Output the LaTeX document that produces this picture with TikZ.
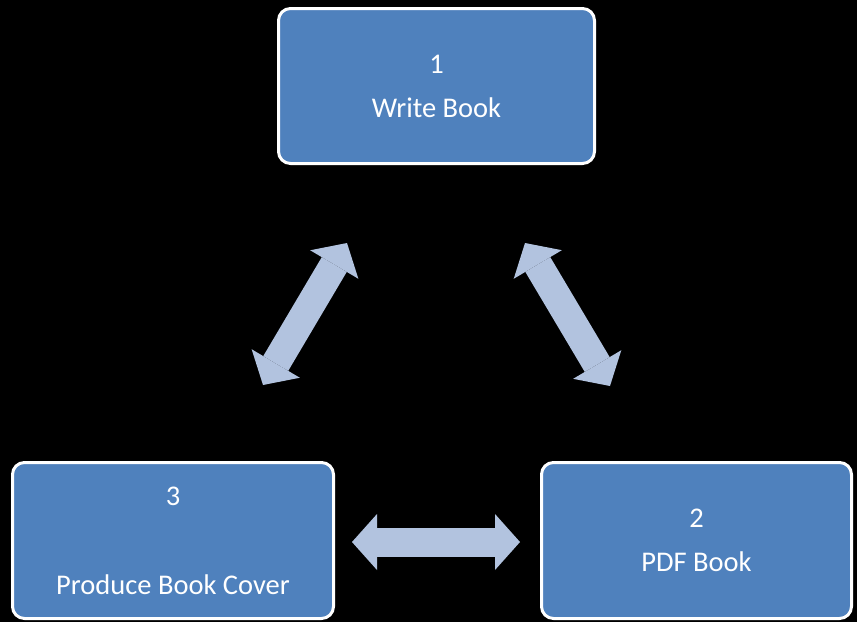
\documentclass[tikz,border=0pt]{standalone}
\usepackage{fontspec}
\setmainfont{Carlito}
\usetikzlibrary{arrows.meta}
\definecolor{boxblue}{RGB}{79,129,189}
\definecolor{arrowblue}{RGB}{178,195,223}
\tikzset{
  stepbox/.style={draw=white, line width=3pt, fill=boxblue, rounded corners=12pt,
    text=white, align=center, font=\fontsize{28.5}{34}\selectfont},
  link/.style={arrowblue, line width=29pt,
    {Triangle[width=56pt,length=25pt,line width=0pt]}-{Triangle[width=56pt,length=25pt,line width=0pt]}}
}
\begin{document}
\begin{tikzpicture}[x=1pt,y=-1pt]
\fill[black] (0,0) rectangle (857,622);
\useasboundingbox (0,0) rectangle (857,622);
\path (436.5,86) node[stepbox, minimum width=316pt, minimum height=155pt] (write) {1\\[10pt]Write Book};
\path (696.5,540.5) node[stepbox, minimum width=310pt, minimum height=156pt] (pdf) {2\\[10pt]PDF Book};
\path (173,540.5) node[stepbox, minimum width=321pt, minimum height=156pt] (cover) {3\\[55pt]Produce Book Cover};
% arrow ends
\coordinate (lb) at (263,385);
\coordinate (lt) at (347,243);
\coordinate (rt) at (525,243);
\coordinate (rb) at (610,386);
\coordinate (hl) at (352,542);
\coordinate (hr) at (520,542);
\draw[link] (lb) -- (lt);
\draw[link] (rt) -- (rb);
\draw[link] (hl) -- (hr);
\end{tikzpicture}
\end{document}
